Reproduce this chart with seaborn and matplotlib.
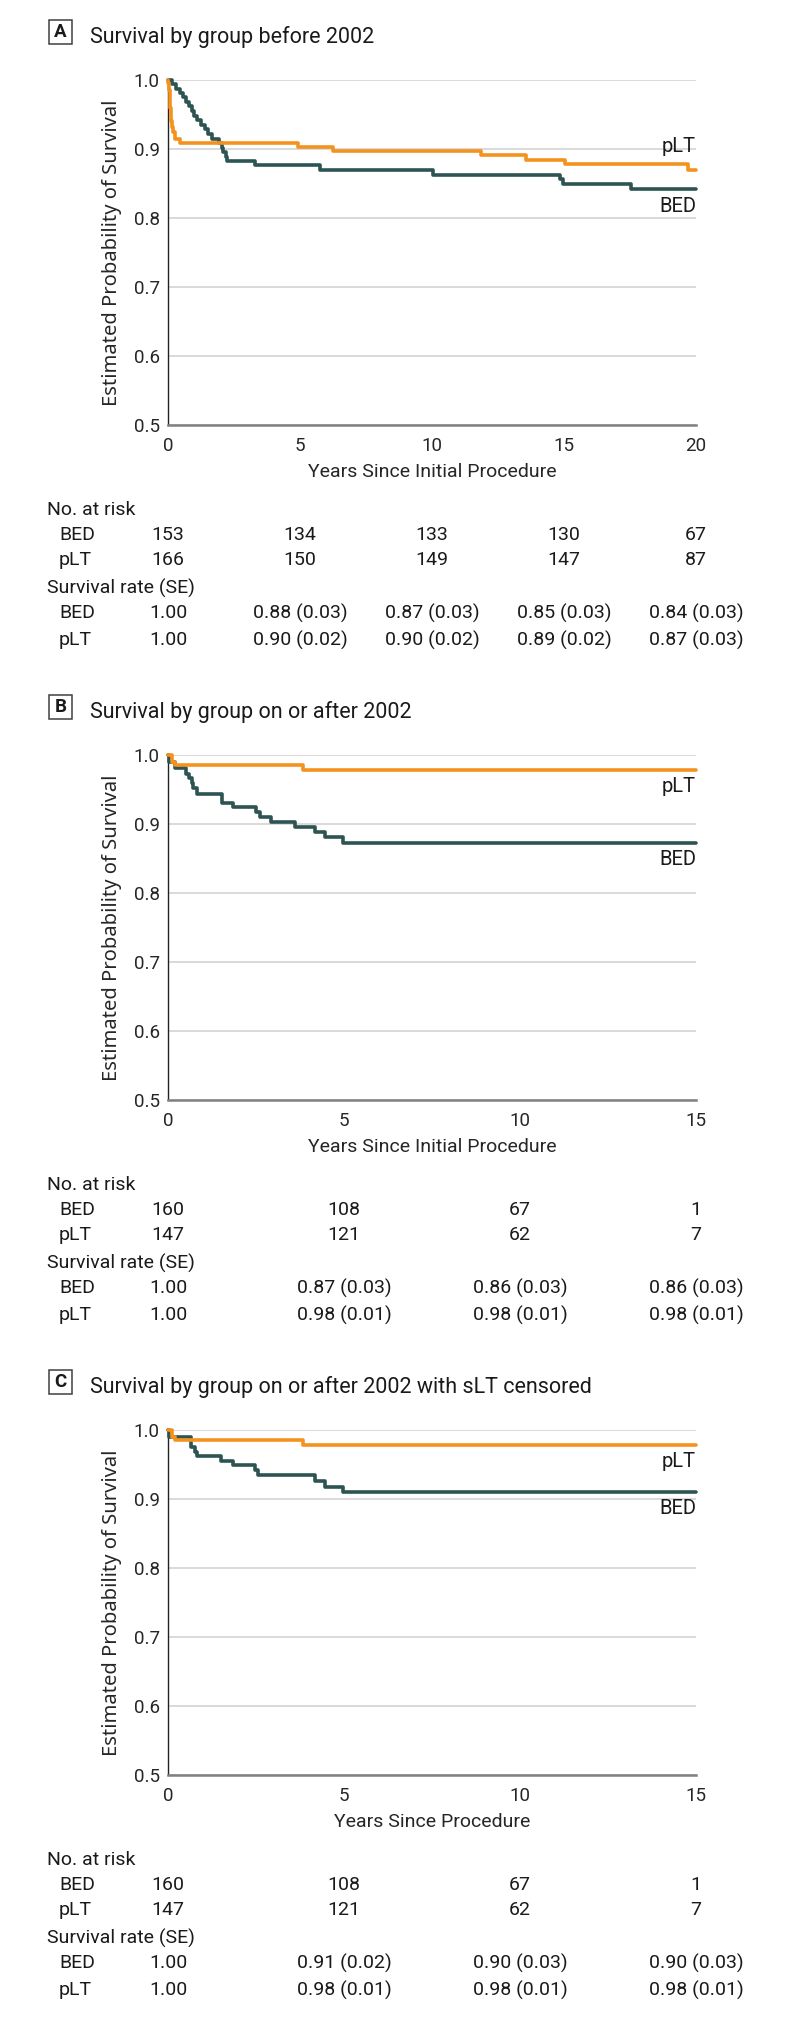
import numpy as np
import pandas as pd
import seaborn as sns
import matplotlib.pyplot as plt
from matplotlib.patches import Rectangle
from matplotlib import transforms

# ---- data ----
# panel A (before 2002)
a_bed_t = [0, 0.15, 0.3, 0.45, 0.55, 0.7, 0.8, 0.9, 1.0, 1.1, 1.25, 1.4, 1.5, 1.65,
           1.95, 2.05, 2.1, 2.2, 2.25, 3.28, 5.75, 10.05, 14.85, 14.95, 17.55, 20]
a_bed_s = [1.0, 0.994, 0.987, 0.981, 0.975, 0.968, 0.962, 0.955, 0.948, 0.942, 0.935, 0.929,
           0.922, 0.915, 0.909, 0.902, 0.895, 0.889, 0.882, 0.877, 0.870, 0.863, 0.856, 0.849,
           0.842, 0.842]
a_plt_t = [0, 0.01, 0.03, 0.06, 0.08, 0.1, 0.13, 0.17, 0.2, 0.25, 0.44,
           4.92, 6.25, 11.85, 13.55, 15.05, 19.7, 20]
a_plt_s = [1.0, 0.995, 0.985, 0.97, 0.96, 0.95, 0.94, 0.932, 0.925, 0.915, 0.909,
           0.903, 0.897, 0.891, 0.884, 0.878, 0.870, 0.870]

# panel B (on or after 2002)
b_bed_t = [0, 0.04, 0.2, 0.51, 0.61, 0.67, 0.72, 0.81, 1.52, 1.84, 2.5, 2.6, 2.92,
           3.6, 4.17, 4.47, 4.98, 15]
b_bed_s = [1.0, 0.99, 0.981, 0.973, 0.966, 0.959, 0.952, 0.944, 0.931, 0.924, 0.917,
           0.910, 0.903, 0.896, 0.888, 0.881, 0.872, 0.872]
b_plt_t = [0, 0.1, 0.2, 3.83, 15]
b_plt_s = [1.0, 0.99, 0.986, 0.978, 0.978]

# panel C (on or after 2002, sLT censored)
c_bed_t = [0, 0.04, 0.66, 0.76, 0.83, 1.51, 1.84, 2.46, 2.56, 4.17, 4.47, 4.98, 15]
c_bed_s = [1.0, 0.99, 0.975, 0.968, 0.962, 0.955, 0.949, 0.942, 0.935, 0.926, 0.918,
           0.910, 0.910]
c_plt_t = [0, 0.1, 0.2, 3.83, 15]
c_plt_s = [1.0, 0.99, 0.986, 0.978, 0.978]

ticks_a = [0, 5, 10, 15, 20]
ticks_bc = [0, 5, 10, 15]

a_risk_bed = ["153", "134", "133", "130", "67"]
a_risk_plt = ["166", "150", "149", "147", "87"]
a_rate_bed = ["1.00", "0.88 (0.03)", "0.87 (0.03)", "0.85 (0.03)", "0.84 (0.03)"]
a_rate_plt = ["1.00", "0.90 (0.02)", "0.90 (0.02)", "0.89 (0.02)", "0.87 (0.03)"]

b_risk_bed = ["160", "108", "67", "1"]
b_risk_plt = ["147", "121", "62", "7"]
b_rate_bed = ["1.00", "0.87 (0.03)", "0.86 (0.03)", "0.86 (0.03)"]
b_rate_plt = ["1.00", "0.98 (0.01)", "0.98 (0.01)", "0.98 (0.01)"]

c_risk_bed = ["160", "108", "67", "1"]
c_risk_plt = ["147", "121", "62", "7"]
c_rate_bed = ["1.00", "0.91 (0.02)", "0.90 (0.03)", "0.90 (0.03)"]
c_rate_plt = ["1.00", "0.98 (0.01)", "0.98 (0.01)", "0.98 (0.01)"]

# ---- style ----
ORANGE = "#F5921E"
TEAL = "#2D5452"
W, H = 794, 2018

sns.set_style("white")
plt.rcParams['font.family'] = ['Roboto', 'DejaVu Sans']
plt.rcParams['text.color'] = '#1a1a1a'

fig = plt.figure(figsize=(W / 100, H / 100), dpi=100)


def fy(py):
    # figure pixel (from top) -> figure fraction
    return 1 - py / H


def draw_panel(off, letter, title, xlabel, ticks, bed_t, bed_s, plt_t, plt_s,
               lab_plt, lab_bed, risk_bed, risk_plt, rate_bed, rate_plt):
    xmax = ticks[-1]
    ax = fig.add_axes([168 / W, fy(425 + off), (696 - 168) / W, 345 / H])

    # survival curves
    for t, s, col in [(bed_t, bed_s, TEAL), (plt_t, plt_s, ORANGE)]:
        df = pd.DataFrame({"t": t, "s": s})
        sns.lineplot(data=df, x="t", y="s", drawstyle="steps-post", color=col,
                     linewidth=2.6, estimator=None, ax=ax, clip_on=False, zorder=3)

    ax.set_xlim(0, xmax)
    ax.set_ylim(0.5, 1.0)
    ax.set_xticks(ticks)
    ax.set_yticks([0.5, 0.6, 0.7, 0.8, 0.9, 1.0])
    ax.set_yticklabels(["0.5", "0.6", "0.7", "0.8", "0.9", "1.0"])
    ax.yaxis.grid(True, color="#D9D9D9", linewidth=1.4)
    ax.set_axisbelow(True)

    for side in ["top", "right"]:
        ax.spines[side].set_visible(False)
    ax.spines["left"].set_color("#222222")
    ax.spines["left"].set_linewidth(1.0)
    ax.spines["bottom"].set_color("#808080")
    ax.spines["bottom"].set_linewidth(1.8)
    ax.spines["bottom"].set_zorder(4)

    ax.tick_params(axis="y", direction="out", length=3.5, width=1, color="#222222",
                   pad=2.5, labelsize=13.5)
    ax.tick_params(axis="x", direction="out", length=4.5, width=1, color="#808080",
                   pad=4, labelsize=13.5)
    ax.set_xlabel(xlabel, fontsize=14, labelpad=6)
    ax.set_ylabel("Estimated Probability of Survival", fontsize=14.5,
                  family=["Noto Sans", "DejaVu Sans"], labelpad=8)

    # group labels at right end
    ax.text(xmax, lab_plt, "pLT", ha="right", va="center", fontsize=14.5)
    ax.text(xmax, lab_bed, "BED", ha="right", va="center", fontsize=14.5)

    # lettered title
    fig.add_artist(Rectangle((49 / W, fy(44 + off)), 23 / W, 24 / H,
                             transform=fig.transFigure, fill=False,
                             edgecolor="#404040", linewidth=1.1))
    fig.text(60.5 / W, fy(32 + off), letter, ha="center", va="center",
             fontsize=13.5, fontweight="bold")
    fig.text(90 / W, fy(43 + off), title, ha="left", va="baseline", fontsize=15.5)

    # risk table
    trans = transforms.blended_transform_factory(ax.transData, fig.transFigure)
    fs = 14
    fig.text(47 / W, fy(510 + off), "No. at risk", ha="left", va="center", fontsize=fs)
    fig.text(59 / W, fy(535 + off), "BED", ha="left", va="center", fontsize=fs)
    fig.text(59 / W, fy(560 + off), "pLT", ha="left", va="center", fontsize=fs)
    fig.text(47 / W, fy(588 + off), "Survival rate (SE)", ha="left", va="center", fontsize=fs)
    fig.text(59 / W, fy(613 + off), "BED", ha="left", va="center", fontsize=fs)
    fig.text(59 / W, fy(640 + off), "pLT", ha="left", va="center", fontsize=fs)
    rows = [(535, risk_bed), (560, risk_plt), (613, rate_bed), (640, rate_plt)]
    for py, vals in rows:
        for x, v in zip(ticks, vals):
            ax.text(x, fy(py + off), v, transform=trans, ha="center", va="center",
                    fontsize=fs, clip_on=False)
    return ax


draw_panel(0, "A", "Survival by group before 2002", "Years Since Initial Procedure",
           ticks_a, a_bed_t, a_bed_s, a_plt_t, a_plt_s, 0.903, 0.816,
           a_risk_bed, a_risk_plt, a_rate_bed, a_rate_plt)
draw_panel(675, "B", "Survival by group on or after 2002", "Years Since Initial Procedure",
           ticks_bc, b_bed_t, b_bed_s, b_plt_t, b_plt_s, 0.954, 0.848,
           b_risk_bed, b_risk_plt, b_rate_bed, b_rate_plt)
draw_panel(1350, "C", "Survival by group on or after 2002 with sLT censored",
           "Years Since Procedure",
           ticks_bc, c_bed_t, c_bed_s, c_plt_t, c_plt_s, 0.954, 0.886,
           c_risk_bed, c_risk_plt, c_rate_bed, c_rate_plt)

fig.savefig("out.png", dpi=100, facecolor="white")
